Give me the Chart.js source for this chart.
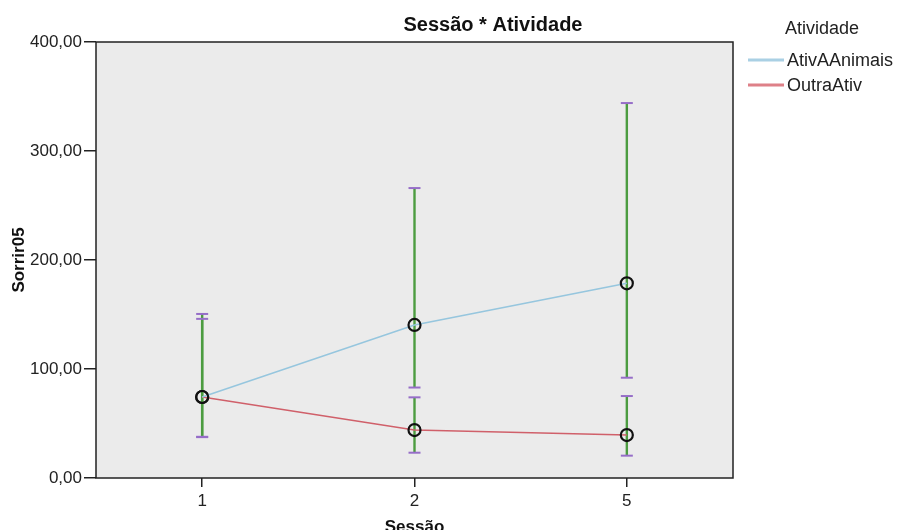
<!DOCTYPE html>
<html>
<head>
<meta charset="utf-8">
<script src="https://cdn.jsdelivr.net/npm/chart.js@4.4.1/dist/chart.umd.min.js"></script>
<style>
  html, body { margin: 0; padding: 0; background: #fff; }
  canvas { display: block; }
</style>
</head>
<body>
<canvas id="c" width="902" height="530"></canvas>
<script>
// Sessões (eixo X)
const sessoes = ['1', '2', '5'];

// Médias de Sorrir05 por atividade
const ativAnimaisMedia = [74.3, 140.4, 178.6];
const outraAtivMedia   = [74.3, 44.0, 39.4];

// Intervalos (limite inferior / superior) das barras de erro
const ativAnimaisInf = [37.5, 83.0, 92.0];
const ativAnimaisSup = [150.5, 266.0, 344.0];
const outraAtivInf   = [37.8, 23.2, 20.5];
const outraAtivSup   = [146.0, 74.0, 75.2];

// Marcas do eixo Y
const yTicks = [0, 100, 200, 300, 400];

const FONT = '"Liberation Sans", Arial, sans-serif';
const corAzul = 'rgb(150,198,222)';
const corVermelha = 'rgb(208,96,106)';
const corErro = 'rgb(76,156,64)';
const corTampa = 'rgb(150,110,200)';

const fmt = v => v.toFixed(2).replace('.', ',');

const fundoPlugin = {
  id: 'fundo',
  beforeDraw(chart) {
    const { ctx, chartArea: a } = chart;
    ctx.save();
    ctx.fillStyle = '#ebebeb';
    ctx.fillRect(a.left, a.top, a.right - a.left, a.bottom - a.top);
    ctx.restore();
  },
  afterDatasetsDraw(chart) {
    const { ctx, chartArea: a } = chart;
    ctx.save();
    ctx.strokeStyle = '#222';
    ctx.lineWidth = 1.5;
    ctx.strokeRect(a.left, a.top, a.right - a.left, a.bottom - a.top);
    ctx.restore();
  }
};

const barrasErroPlugin = {
  id: 'barrasErro',
  beforeDatasetsDraw(chart) {
    const { ctx, scales: { x, y } } = chart;
    const series = [
      [ativAnimaisInf, ativAnimaisSup],
      [outraAtivInf, outraAtivSup]
    ];
    ctx.save();
    // linhas verticais
    ctx.strokeStyle = corErro;
    ctx.lineWidth = 2.4;
    series.forEach(([inf, sup]) => {
      sessoes.forEach((s, i) => {
        const px = x.getPixelForValue(i);
        ctx.beginPath();
        ctx.moveTo(px, y.getPixelForValue(inf[i]));
        ctx.lineTo(px, y.getPixelForValue(sup[i]));
        ctx.stroke();
      });
    });
    // tampas
    ctx.strokeStyle = corTampa;
    ctx.lineWidth = 2;
    series.forEach(([inf, sup]) => {
      sessoes.forEach((s, i) => {
        const px = x.getPixelForValue(i);
        [inf[i], sup[i]].forEach(v => {
          const py = y.getPixelForValue(v);
          ctx.beginPath();
          ctx.moveTo(px - 6, py);
          ctx.lineTo(px + 6, py);
          ctx.stroke();
        });
      });
    });
    ctx.restore();
  }
};

const textosPlugin = {
  id: 'textos',
  afterDraw(chart) {
    const { ctx, chartArea: a } = chart;
    ctx.save();
    ctx.fillStyle = '#111';
    // título
    ctx.font = 'bold 20px ' + FONT;
    ctx.textAlign = 'center';
    ctx.textBaseline = 'alphabetic';
    ctx.fillText('Sessão * Atividade', 493, 31);
    // título do eixo X
    ctx.font = 'bold 17px ' + FONT;
    ctx.fillText('Sessão', (a.left + a.right) / 2, 532);
    // título do eixo Y
    ctx.save();
    ctx.translate(24, (a.top + a.bottom) / 2);
    ctx.rotate(-Math.PI / 2);
    ctx.fillText('Sorrir05', 0, 0);
    ctx.restore();
    // legenda
    ctx.fillStyle = '#222';
    ctx.font = '18px ' + FONT;
    ctx.textAlign = 'left';
    ctx.fillText('Atividade', 785, 34);
    const itens = chart.data.datasets;
    const ys = [60, 85];
    itens.forEach((ds, i) => {
      ctx.strokeStyle = ds.legendColor;
      ctx.lineWidth = 3;
      ctx.beginPath();
      ctx.moveTo(748, ys[i]);
      ctx.lineTo(784, ys[i]);
      ctx.stroke();
      ctx.textBaseline = 'middle';
      ctx.fillText(ds.label, 787, ys[i] + 1);
    });
    ctx.restore();
  }
};

new Chart(document.getElementById('c'), {
  type: 'line',
  data: {
    labels: sessoes,
    datasets: [
      {
        label: 'AtivAAnimais',
        data: ativAnimaisMedia,
        borderColor: corAzul,
        legendColor: 'rgb(170,208,228)',
        borderWidth: 1.6,
        pointRadius: 6,
        pointBorderWidth: 2.2,
        pointBorderColor: '#111',
        pointBackgroundColor: 'rgba(0,0,0,0)',
        tension: 0
      },
      {
        label: 'OutraAtiv',
        data: outraAtivMedia,
        borderColor: corVermelha,
        legendColor: 'rgb(222,128,136)',
        borderWidth: 1.6,
        pointRadius: 6,
        pointBorderWidth: 2.2,
        pointBorderColor: '#111',
        pointBackgroundColor: 'rgba(0,0,0,0)',
        tension: 0
      }
    ]
  },
  options: {
    responsive: false,
    animation: false,
    layout: { padding: { top: 42, right: 169, left: 0, bottom: 0 } },
    plugins: {
      legend: { display: false },
      title: { display: false },
      tooltip: { enabled: false }
    },
    scales: {
      x: {
        type: 'category',
        offset: true,
        border: { display: false },
        grid: {
          display: true,
          drawOnChartArea: false,
          drawTicks: true,
          tickLength: 9,
          color: '#222',
          lineWidth: 1.5,
          offset: false
        },
        ticks: {
          font: { family: FONT, size: 17 },
          color: '#222',
          padding: 4
        },
        afterFit(scale) { scale.height = 52; }
      },
      y: {
        min: 0,
        max: 400,
        border: { display: false },
        afterBuildTicks(scale) { scale.ticks = yTicks.map(v => ({ value: v })); },
        grid: {
          display: true,
          drawOnChartArea: false,
          drawTicks: true,
          tickLength: 12,
          color: '#222',
          lineWidth: 1.5
        },
        ticks: {
          font: { family: FONT, size: 17 },
          color: '#222',
          padding: 2,
          callback: v => fmt(v)
        },
        afterFit(scale) { scale.width = 96; }
      }
    }
  },
  plugins: [fundoPlugin, barrasErroPlugin, textosPlugin]
});
</script>
</body>
</html>
